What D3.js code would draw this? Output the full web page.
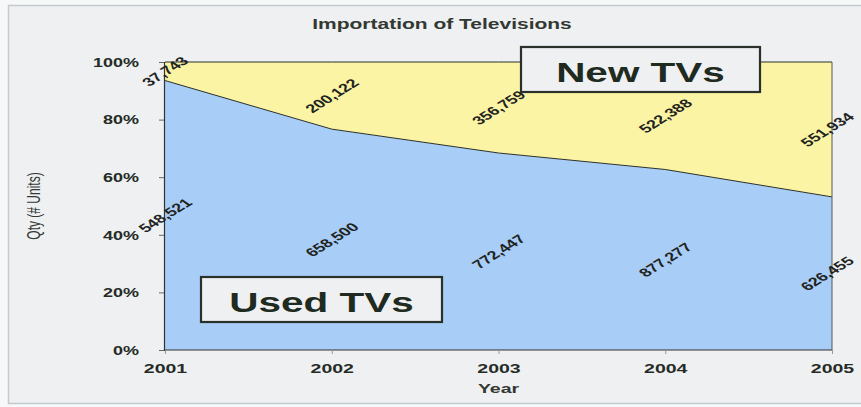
<!DOCTYPE html>
<html><head><meta charset="utf-8">
<script src="https://cdn.jsdelivr.net/npm/d3@7"></script>
<style>
html,body{margin:0;padding:0;background:#f7f8f9;}
svg{display:block;font-family:"Liberation Sans",Arial,sans-serif;}
</style></head>
<body><svg id="c" width="861" height="407"></svg>
<script>
const years = ["2001","2002","2003","2004","2005"];
const usedTVs = [548521, 658500, 772447, 877277, 626455];
const newTVs = [37743, 200122, 356759, 522388, 551934];
const yTicks = [0, 0.2, 0.4, 0.6, 0.8, 1.0];
const seriesNames = ["Used TVs", "New TVs"];

const SX = 1.5; // horizontal stretch of the original picture
const svg = d3.select("#c");
const W = 861, H = 407;
const m = {left:165, right:29, top:62, bottom:57};
const ink = "#262b26";

svg.append("rect").attr("x",8.5).attr("y",5.5).attr("width",W).attr("height",398)
  .attr("fill","#eef0f2").attr("stroke","#c3cad0").attr("stroke-width",1.5);

const x = d3.scalePoint().domain(years).range([m.left, W - m.right]);
const y = d3.scaleLinear().domain([0,1]).range([H - m.bottom, m.top]);

const rows = years.map((yr,i)=>({year:yr, used:usedTVs[i], neu:newTVs[i], total:usedTVs[i]+newTVs[i]}));
const stack = d3.stack().keys(["used","neu"]).value((d,k)=>d[k]/d.total);
const layers = stack(rows);
const colors = ["#a8cdf6","#fbf4a4"];

const area = d3.area().x(d=>x(d.data.year)).y0(d=>y(d[0])).y1(d=>y(d[1]));
svg.selectAll("path.layer").data(layers).join("path").attr("class","layer")
  .attr("d",area).attr("fill",(d,i)=>colors[i]).attr("stroke","none");

const line = d3.line().x(d=>x(d.data.year)).y(d=>y(d[1]));
svg.append("path").attr("d",line(layers[0])).attr("fill","none").attr("stroke","#2b302b").attr("stroke-width",1);
svg.append("path").attr("d",line(layers[1])).attr("fill","none").attr("stroke","#2b302b").attr("stroke-width",1);
svg.append("line").attr("x1",x("2005")).attr("x2",x("2005")).attr("y1",y(1)).attr("y2",y(0))
  .attr("stroke","#555a55").attr("stroke-width",1);

// axes
const yAxis = d3.axisLeft(y).tickValues(yTicks).tickFormat(d3.format(".0%")).tickSize(5);
const gy = svg.append("g").attr("transform",`translate(${m.left-1},0)`).call(yAxis);
gy.select(".domain").attr("stroke","#333").attr("stroke-width",1.2);
gy.selectAll(".tick line").attr("stroke","#666");
gy.selectAll("text").attr("x",0).attr("dy","0.36em")
  .attr("transform",`translate(-25,0) scale(${SX},1)`)
  .attr("font-size",12).attr("font-weight","bold").attr("fill",ink)
  .attr("font-family","Liberation Sans, Arial, sans-serif");

const xAxis = d3.axisBottom(x).tickSize(4);
const gx = svg.append("g").attr("transform",`translate(0,${y(0)})`).call(xAxis);
gx.select(".domain").attr("stroke","#333").attr("stroke-width",1.2).attr("d",`M${m.left-1},0H${W-m.right}`);
gx.selectAll(".tick line").attr("stroke","#999");
gx.selectAll("text").attr("y",0).attr("dy",0)
  .attr("transform",`translate(0,23) scale(${SX},1)`)
  .attr("font-size",13).attr("font-weight","bold").attr("fill",ink)
  .attr("font-family","Liberation Sans, Arial, sans-serif");

// data labels (last column nudged inward so it stays inside the frame)
const fmt = d3.format(",");
const lastYear = years[years.length-1];
layers.forEach((layer,li)=>{
  svg.selectAll(null).data(layer).join("text")
    .attr("transform",d=>`translate(${x(d.data.year) - (d.data.year===lastYear?5:0)},${y((d[0]+d[1])/2)}) scale(${SX},1) rotate(-43)`)
    .attr("text-anchor","middle").attr("dy","0.36em")
    .attr("font-size",12).attr("font-weight","bold").attr("fill","#1f241f")
    .text(d=>fmt(li===0?d.data.used:d.data.neu));
});

// title and axis titles
svg.append("text").attr("transform",`translate(442,29) scale(${SX},1)`).attr("text-anchor","middle")
  .attr("font-size",14).attr("font-weight","bold").attr("fill","#333833").text("Importation of Televisions");
svg.append("text").attr("transform",`translate(40,206) scale(${SX},1) rotate(-90)`).attr("text-anchor","middle")
  .attr("font-size",12).attr("fill","#333833").text("Qty (# Units)");
svg.append("text").attr("transform",`translate(${x("2003")},393) scale(${SX},1)`).attr("text-anchor","middle")
  .attr("font-size",13).attr("font-weight","bold").attr("fill","#333833").text("Year");

// label boxes
const boxes = [
  {name:seriesNames[1], x0:521, y0:47, w:239, h:45, base:82},
  {name:seriesNames[0], x0:201, y0:277, w:241, h:45, base:312}
];
boxes.forEach(b=>{
  svg.append("rect").attr("x",b.x0).attr("y",b.y0).attr("width",b.w).attr("height",b.h)
    .attr("fill","#eef0f2").attr("stroke","#2a302a").attr("stroke-width",2.2);
  svg.append("text").attr("transform",`translate(${b.x0+b.w/2},${b.base}) scale(${SX},1)`)
    .attr("text-anchor","middle").attr("font-size",27).attr("font-weight","bold")
    .attr("fill","#1f2a20").text(b.name);
});
</script></body></html>
